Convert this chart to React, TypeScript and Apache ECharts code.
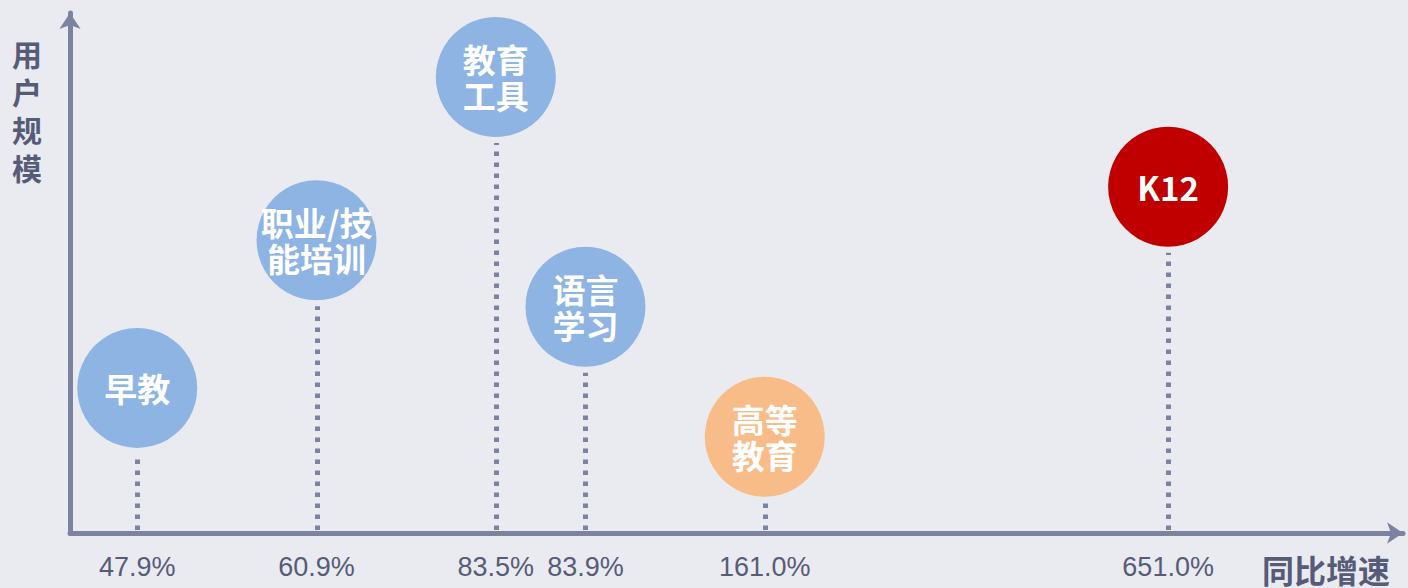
import React, { useEffect, useRef } from "react";
import * as echarts from "echarts";

const categories = ["早教", "职业/技\n能培训", "教育\n工具", "语言\n学习", "高等\n教育", "K12"];
const growthLabels = ["47.9%", "60.9%", "83.5%", "83.9%", "161.0%", "651.0%"];
const rankSlots = [0, 4, 8, 10, 14, 23];
const userScale = [27.9, 56.3, 87.7, 43.5, 18.5, 66.6];
const bubbleColors = ["#8DB4E2", "#8DB4E2", "#8DB4E2", "#8DB4E2", "#F8BC89", "#C00000"];

const AXIS = "#7C83A0";
const TEXT = "#565C78";
const BG = "#EAEBF1";

export default function App() {
  const ref = useRef<HTMLDivElement>(null);
  useEffect(() => {
    if (!ref.current) return;
    const chart = echarts.init(ref.current, undefined, { renderer: "svg" });
    const pts = rankSlots.map((s, i) => [s, userScale[i]]);
    chart.setOption({
      animation: false,
      backgroundColor: BG,
      grid: { left: 70, right: 5, top: 13, bottom: 55 },
      xAxis: {
        type: "value",
        min: -1.5,
        max: 28.24,
        splitLine: { show: false },
        axisTick: { show: false },
        axisLine: {
          show: true,
          onZero: false,
          symbol: ["none", "arrow"],
          symbolSize: [16, 16],
          lineStyle: { color: AXIS, width: 5 },
        },
        axisLabel: {
          customValues: rankSlots,
          formatter: (v: number) => {
            const k = rankSlots.indexOf(v);
            return k >= 0 ? growthLabels[k] : "";
          },
          margin: 20,
          color: TEXT,
          fontSize: 27,
          fontFamily: "Liberation Sans",
        },
      },
      yAxis: {
        type: "value",
        min: 0,
        max: 100,
        splitLine: { show: false },
        axisTick: { show: false },
        axisLabel: { show: false },
        axisLine: {
          show: true,
          onZero: false,
          symbol: ["none", "arrow"],
          symbolSize: [16, 16],
          lineStyle: { color: AXIS, width: 5 },
        },
      },
      graphic: [
        {
          type: "text",
          left: 12,
          top: 34,
          style: {
            text: "用\n户\n规\n模",
            fill: TEXT,
            font: "bold 30px 'Noto Sans CJK SC'",
            lineHeight: 38,
          },
        },
        {
          type: "text",
          right: 18,
          top: 553,
          style: {
            text: "同比增速",
            fill: TEXT,
            font: "bold 32px 'Noto Sans CJK SC'",
            lineHeight: 32,
          },
        },
      ],
      series: [
        {
          type: "custom",
          z: 2,
          data: pts,
          renderItem: (params: any, api: any) => {
            const top = api.coord([api.value(0), api.value(1)]);
            const base = api.coord([api.value(0), 0]);
            const x = Math.round(top[0]) + 0.5;
            return {
              type: "line",
              shape: { x1: x, y1: base[1] - 3, x2: x, y2: top[1] + 66 },
              style: { stroke: AXIS, lineWidth: 5, lineDash: [4.5, 6.5] },
            };
          },
        },
        {
          type: "scatter",
          z: 3,
          symbolSize: 120,
          data: pts.map((p, i) => ({
            value: p,
            name: categories[i],
            itemStyle: { color: bubbleColors[i], opacity: 1 },
          })),
          label: {
            show: true,
            position: "inside",
            formatter: "{b}",
            color: "#FFFFFF",
            fontSize: 33,
            fontWeight: "bold",
            lineHeight: 36,
            fontFamily: "'Noto Sans CJK SC'",
          },
          emphasis: { disabled: true },
        },
      ],
    });
    return () => chart.dispose();
  }, []);
  return (
    <div
      ref={ref}
      style={{ position: "fixed", left: 0, top: 0, width: 1408, height: 588, background: BG }}
    />
  );
}
